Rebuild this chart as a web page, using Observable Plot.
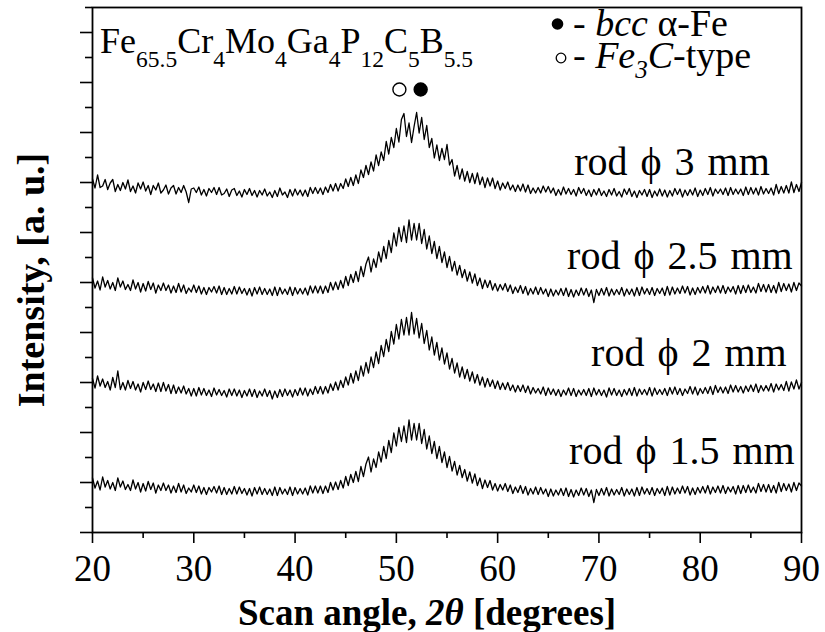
<!DOCTYPE html>
<html><head><meta charset="utf-8">
<script src="https://cdn.jsdelivr.net/npm/d3@7"></script>
<script src="https://cdn.jsdelivr.net/npm/@observablehq/plot@0.6"></script>
<style>
body{margin:0;background:#fff}
g[aria-label="text"] text{word-spacing:3px}
</style>
</head><body><div id="chart"></div>
<script>
// Sampling grid of the scans (degrees 2θ)
const angleStart = 20, angleStep = 0.25;

// Intensity traces (arbitrary units, one value per 0.25°)
const rod3 = [
107,89,115,90, 93,106,86,99, 106,82,96,84, 100,87,105,82, 93,79,99,87,
101,83,94,76, 94,85,99,79, 85,95,77,89, 94,77,90,80, 94,81,60,87,
89,80,91,75, 86,73,88,80, 90,76,90,75, 78,87,72,85, 88,74,83,71,
86,76,88,74, 84,71,84,75, 87,73,81,70, 84,72,89,75, 81,70,86,73,
87,75,85,73, 85,72,90,78, 90,78,89,76, 91,80,96,83, 98,83,98,88,
107,92,110,94, 115,98,125,110, 134,116,141,123, 155,134,161,144, 182,157,190,170,
208,181,226,238, 192,219,180,212, 240,199,230,186, 214,170,188,149, 175,144,168,146,
176,135,146,113, 134,107,127,103, 122,100,118,98, 119,96,111,90, 109,93,109,88,
103,85,99,88, 101,85,95,82, 95,83,97,81, 95,78,89,79, 90,79,93,81,
92,79,89,74, 86,75,91,77, 88,76,86,73, 90,78,88,74, 85,72,86,75,
88,74,83,72, 86,75,88,73, 82,71,87,76, 88,72,83,70, 84,75,86,72,
86,70,83,73, 87,73,85,71, 84,73,88,76, 87,71,85,74, 86,75,89,72,
85,74,88,76, 90,73,87,78, 87,76,89,74, 90,76,87,77, 87,74,91,76,
90,77,89,75, 92,77,88,78, 89,75,96,78, 92,79,94,79, 101,80,96,82,
100];

const rod25 = [
109,89,103,85, 111,91,104,87, 100,84,109,91, 103,86,96,84, 105,87,100,81,
98,83,102,86, 99,79,95,84, 99,84,95,79, 93,80,98,81, 95,78,89,81,
95,80,93,77, 90,76,90,81, 92,79,93,76, 90,76,88,77, 92,77,91,78,
88,75,88,73, 90,77,91,76, 88,76,87,74, 91,74,90,77, 87,76,91,74,
90,77,88,77, 89,75,93,79, 93,79,93,78, 93,80,100,85, 101,86,104,89,
112,94,116,100, 122,102,132,112, 137,151,121,147, 130,161,141,172, 148,184,160,199,
173,210,182,213, 180,225,185,218, 185,218,178,206, 167,193,158,182, 148,172,140,161,
130,152,123,142, 115,134,110,126, 103,121,99,117, 94,109,88,105, 90,104,85,98,
83,96,85,98, 82,95,78,91, 80,94,78,92, 75,88,77,91, 76,90,77,87,
72,87,73,85, 75,88,74,89, 72,86,71,85, 74,89,75,88, 72,85,60,86,
74,88,75,90, 73,87,75,86, 76,90,73,87, 76,87,73,90, 74,91,77,88,
76,90,74,88, 78,89,74,92, 75,91,77,89, 78,93,79,92, 75,89,76,90,
79,92,79,94, 77,91,80,93, 79,94,78,91, 81,92,77,94, 78,94,80,95,
80,91,79,98, 82,96,81,96, 80,94,79,100, 82,98,84,97, 81,100,84,99,
93];

const rod2 = [
108,89,113,93, 107,90,102,85, 110,90,123,86, 100,85,104,88, 102,85,97,81,
100,86,103,86, 97,82,99,82, 100,83,96,78, 95,78,91,79, 93,77,88,73,
88,73,90,75, 88,74,85,72, 89,75,86,74, 84,71,87,74, 87,73,85,70,
84,73,87,72, 86,70,83,73, 87,72,84,67, 83,70,86,72, 87,74,85,71,
86,74,89,75, 89,73,87,76, 92,78,92,77, 92,79,97,84, 101,85,104,90,
111,95,118,99, 123,104,133,113, 140,119,151,130, 161,138,174,152, 186,162,202,177,
216,187,226,195, 230,195,240,197, 228,189,218,178, 204,165,191,155, 180,145,169,137,
159,127,148,119, 139,111,131,108, 126,103,121,99, 116,95,111,91, 108,92,105,88,
103,86,99,86, 100,84,95,81, 94,82,95,80, 93,77,90,79, 88,77,91,74,
89,76,87,74, 86,72,85,75, 89,74,88,72, 85,75,86,74, 88,72,89,75,
86,74,85,71, 89,75,88,74, 85,72,86,75, 88,74,90,73, 87,76,86,75,
90,73,89,76, 86,76,88,74, 90,77,91,76, 88,74,87,78, 92,77,91,75,
88,78,90,78, 92,76,94,80, 91,79,91,78, 95,81,94,81, 92,79,93,82,
95,82,97,80, 94,83,94,83, 98,81,97,85, 96,84,102,83, 101,87,105,87,
100];

// The 1.5 mm trace is printed identical to the 2.5 mm one in the figure
const rod15 = [
109,89,103,85, 111,91,104,87, 100,84,109,91, 103,86,96,84, 105,87,100,81,
98,83,102,86, 99,79,95,84, 99,84,95,79, 93,80,98,81, 95,78,89,81,
95,80,93,77, 90,76,90,81, 92,79,93,76, 90,76,88,77, 92,77,91,78,
88,75,88,73, 90,77,91,76, 88,76,87,74, 91,74,90,77, 87,76,91,74,
90,77,88,77, 89,75,93,79, 93,79,93,78, 93,80,100,85, 101,86,104,89,
112,94,116,100, 122,102,132,112, 137,151,121,147, 130,161,141,172, 148,184,160,199,
173,210,182,213, 180,225,185,218, 185,218,178,206, 167,193,158,182, 148,172,140,161,
130,152,123,142, 115,134,110,126, 103,121,99,117, 94,109,88,105, 90,104,85,98,
83,96,85,98, 82,95,78,91, 80,94,78,92, 75,88,77,91, 76,90,77,87,
72,87,73,85, 75,88,74,89, 72,86,71,85, 74,89,75,88, 72,85,60,86,
74,88,75,90, 73,87,75,86, 76,90,73,87, 76,87,73,90, 74,91,77,88,
76,90,74,88, 78,89,74,92, 75,91,77,89, 78,93,79,92, 75,89,76,90,
79,92,79,94, 77,91,80,93, 79,94,78,91, 81,92,77,94, 78,94,80,95,
80,91,79,98, 82,96,81,96, 80,94,79,100, 82,98,84,97, 81,100,84,99,
93];

const seriesNames = ["rod ϕ 1.5 mm", "rod ϕ 2 mm", "rod ϕ 2.5 mm", "rod ϕ 3 mm"];
const seriesValues = [rod15, rod2, rod25, rod3];
const seriesOffsets = [0, 200, 400, 600];   // vertical stacking of the patterns

const xTicks = [20, 30, 40, 50, 60, 70, 80, 90];
const xMinorTicks = [25, 35, 45, 55, 65, 75, 85];
const yTicks = [0, 100, 200, 300, 400, 500, 600, 700, 800, 900, 1000];
const yMinorTicks = [50, 150, 250, 350, 450, 550, 650, 750, 850, 950, 1050];

// Phase peak markers
const phaseNames = ["Fe3C-type", "bcc α-Fe"];
const phaseAngles = [50.3, 52.4];
const phaseFilled = [false, true];

// Alloy composition (title)
const alloyElements = ["Fe", "Cr", "Mo", "Ga", "P", "C", "B"];
const alloyAtPct = ["65.5", "4", "4", "4", "12", "5", "5.5"];

// ---- build tables ----
const rows = seriesValues.flatMap((vals, s) => vals.map((v, i) => ({
  series: seriesNames[s], angle: angleStart + i * angleStep, intensity: v + seriesOffsets[s]
})));
const markerLevel = 886;
const phases = phaseNames.map((n, i) => ({name: n, angle: phaseAngles[i], filled: phaseFilled[i], level: markerLevel}));
const labelEnd = [89.33, 88.54, 89.13, 86.87];
const labelBase = [138, 334, 528, 716];
const labels = seriesNames.map((n, i) => ({name: n, x: labelEnd[i], y: labelBase[i]}));

const font = "Liberation Serif, Times New Roman, serif";

const chart = Plot.plot({
  width: 825, height: 632,
  marginLeft: 92, marginRight: 24, marginTop: 7, marginBottom: 100,
  style: {fontFamily: font, background: "white", color: "black"},
  x: {domain: [20, 90]},
  y: {domain: [0, 1050]},
  marks: [
    Plot.axisX({ticks: xTicks, tickSize: 11, tickPadding: 11, fontSize: 37, strokeWidth: 1.6, tickFormat: d => String(d), label: null}),
    Plot.axisX({ticks: xMinorTicks, tickSize: 6, strokeWidth: 1.6, tickFormat: () => "", label: null}),
    Plot.axisY({ticks: yTicks, tickSize: 12, strokeWidth: 1.6, tickFormat: () => "", label: null}),
    Plot.axisY({ticks: yMinorTicks, tickSize: 7, strokeWidth: 1.6, tickFormat: () => "", label: null}),
    Plot.line(rows, {x: "angle", y: "intensity", z: "series", stroke: "black", strokeWidth: 1.3}),
    Plot.dot(phases, {x: "angle", y: "level", r: 6.5, fill: d => d.filled ? "black" : "white", stroke: "black", strokeWidth: 1.4}),
    Plot.text(labels, {x: "x", y: "y", text: "name", textAnchor: "end", lineAnchor: "bottom", fontSize: 40, fill: "black"}),
    Plot.frame({stroke: "black", strokeWidth: 1.8})
  ]
});
document.getElementById("chart").appendChild(chart);

const svg = d3.select(chart);
// Title with subscripts
const title = svg.append("text").attr("x", 100).attr("y", 53).attr("text-anchor", "start")
  .attr("font-family", font).attr("fill", "black").style("white-space", "pre");
alloyElements.forEach((el, i) => {
  title.append("tspan").attr("y", 53).attr("font-size", 36).text(el);
  title.append("tspan").attr("y", 67).attr("font-size", 23.5).text(alloyAtPct[i]);
});

// Legend
svg.append("circle").attr("cx", 557.5).attr("cy", 24).attr("r", 5.8).attr("fill", "black");
const l1 = svg.append("text").attr("x", 573).attr("y", 36).attr("text-anchor", "start").attr("font-family", font)
  .attr("font-size", 38).attr("fill", "black").style("white-space", "pre");
l1.append("tspan").text("- ");
l1.append("tspan").attr("font-style", "italic").text("bcc");
l1.append("tspan").text(" α-Fe");

svg.append("circle").attr("cx", 561).attr("cy", 58).attr("r", 4.8).attr("fill", "white")
  .attr("stroke", "black").attr("stroke-width", 1.3);
const l2 = svg.append("text").attr("x", 573).attr("y", 68).attr("text-anchor", "start").attr("font-family", font)
  .attr("font-size", 38).attr("fill", "black").style("white-space", "pre");
l2.append("tspan").text("- ");
l2.append("tspan").attr("font-style", "italic").text("Fe");
l2.append("tspan").attr("font-style", "italic").attr("font-size", 25).attr("y", 78).text("3");
l2.append("tspan").attr("font-style", "italic").attr("y", 68).text("C");
l2.append("tspan").text("-type");

// Axis titles
const xl = svg.append("text").attr("x", 427).attr("y", 625).attr("text-anchor", "middle")
  .attr("font-family", font).attr("font-size", 37).attr("font-weight", "bold")
  .attr("fill", "black").style("white-space", "pre");
xl.append("tspan").text("Scan angle, ");
xl.append("tspan").attr("font-style", "italic").text("2θ");
xl.append("tspan").text(" [degrees]");

svg.append("text").attr("transform", "translate(44,280) rotate(-90)").attr("text-anchor", "middle")
  .attr("font-family", font).attr("font-size", 38).attr("font-weight", "bold")
  .attr("fill", "black").text("Intensity, [a. u.]");
</script>
</body></html>
